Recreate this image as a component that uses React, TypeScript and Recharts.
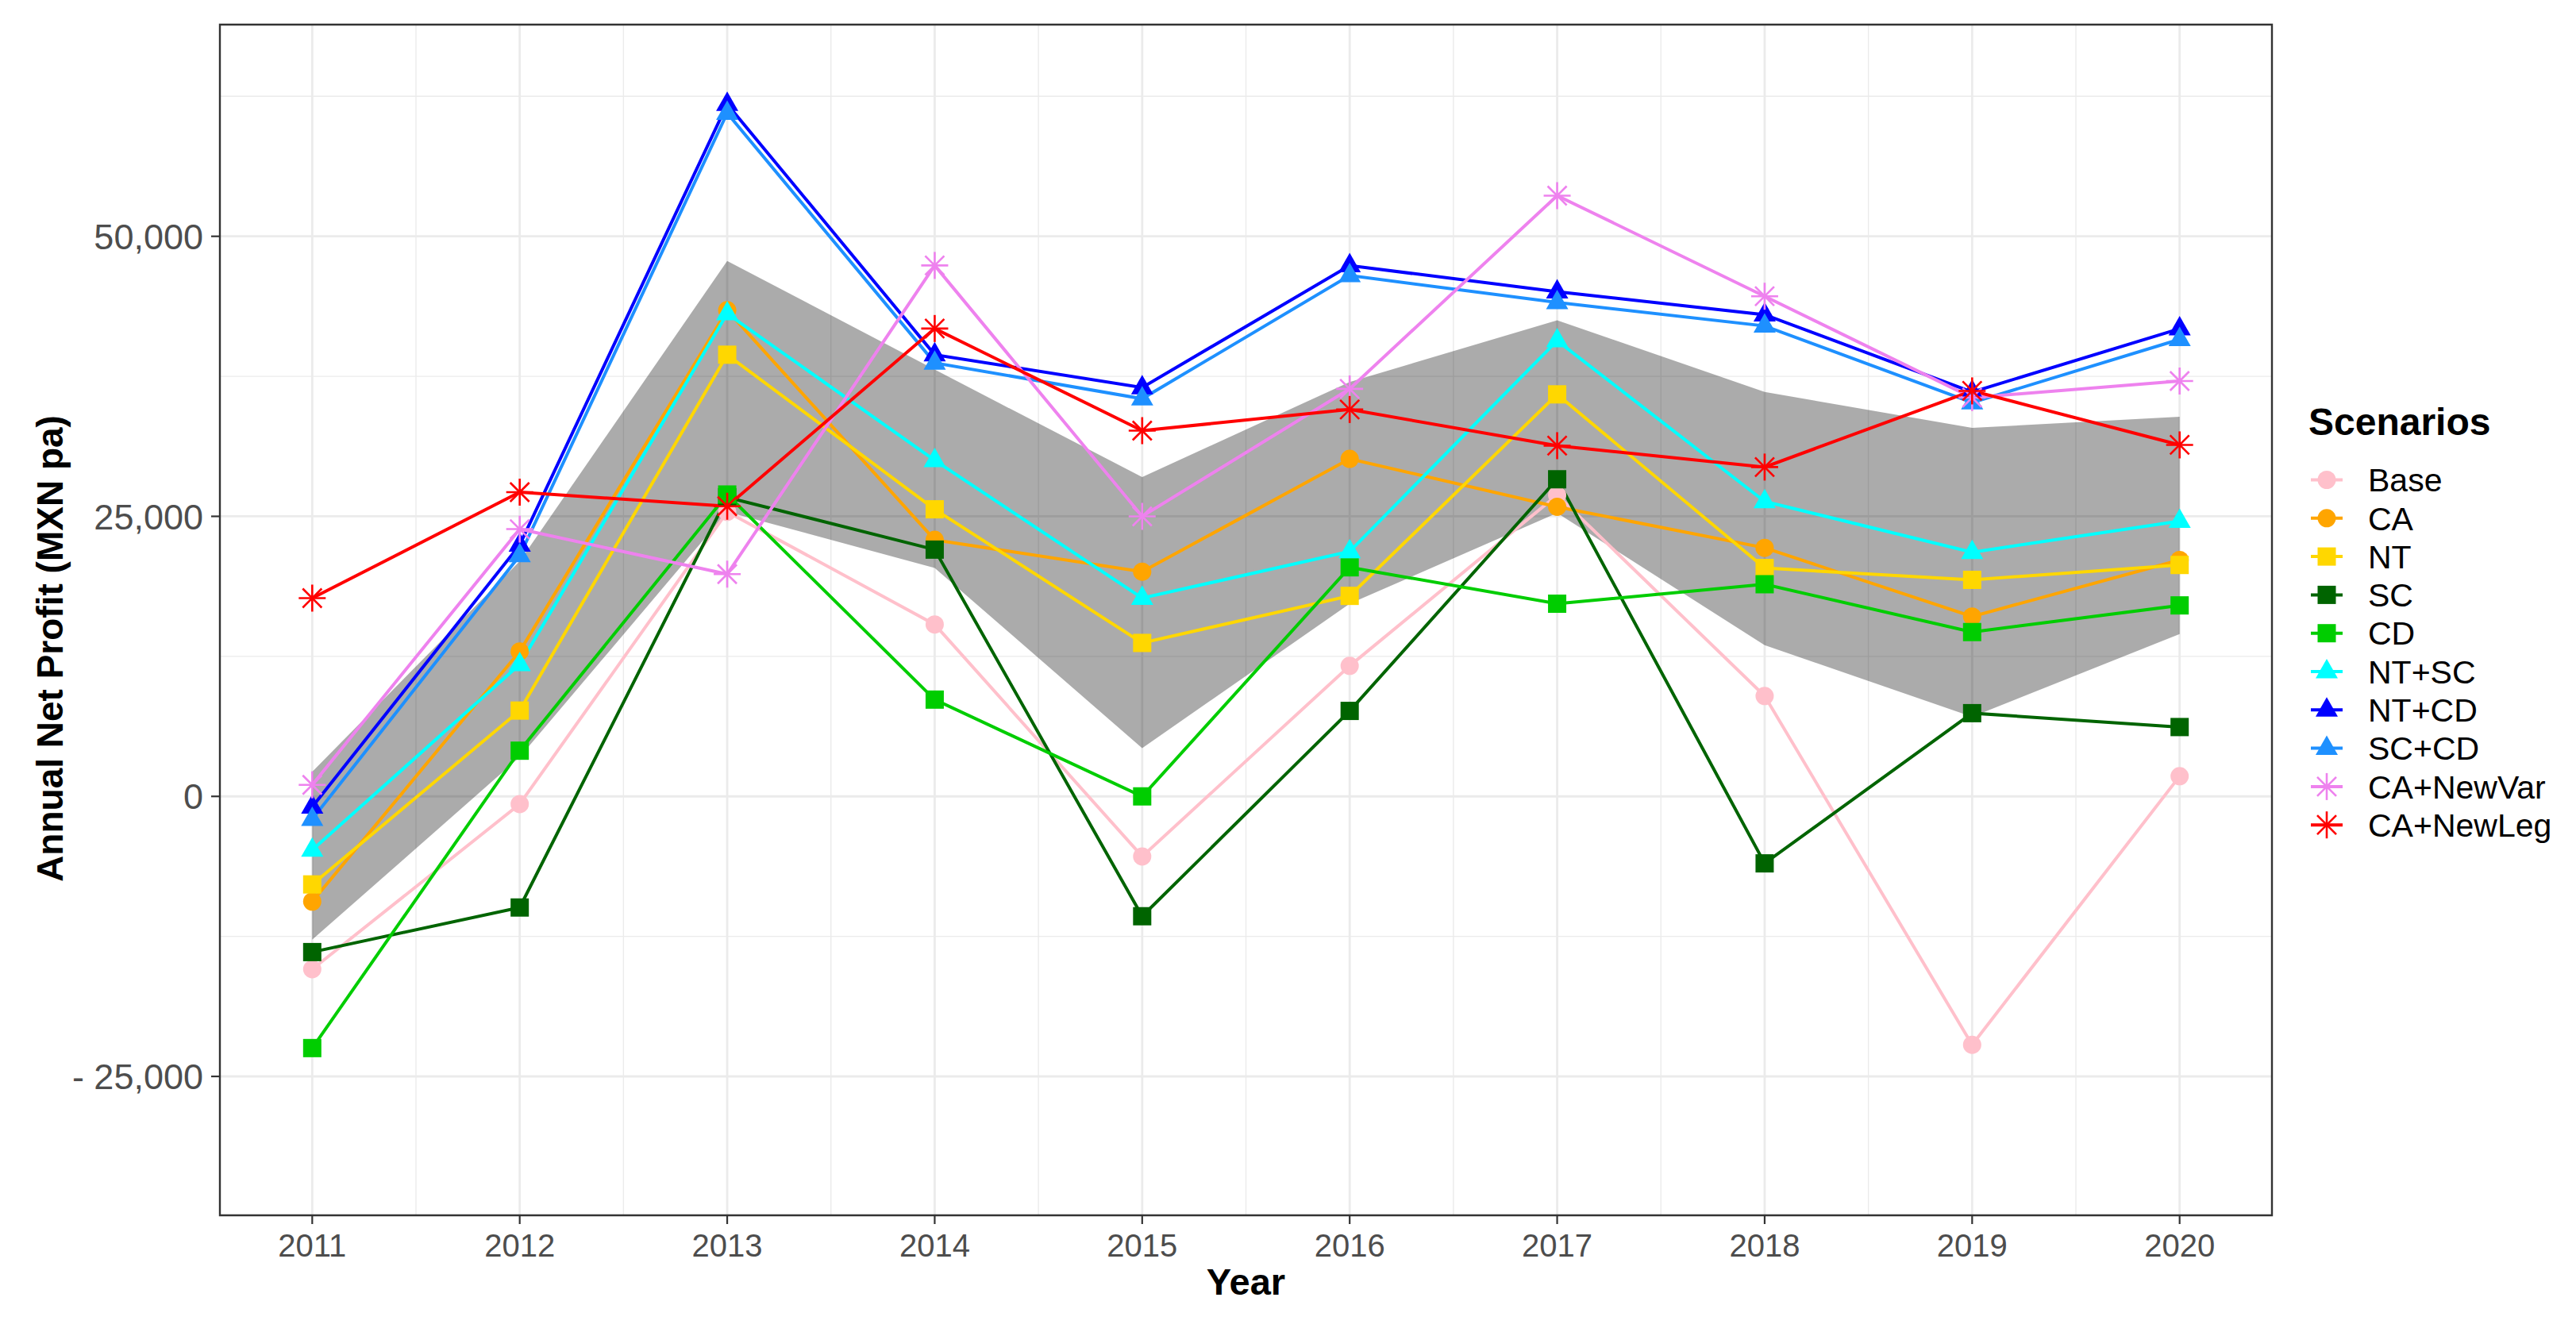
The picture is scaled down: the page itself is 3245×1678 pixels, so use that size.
import React from 'react';
import { ComposedChart, Line, Area, XAxis, YAxis, CartesianGrid, ReferenceArea, Label } from 'recharts';

// ---------- data ----------
const years = [2011, 2012, 2013, 2014, 2015, 2016, 2017, 2018, 2019, 2020];

const base = [-15430, -690, 25400, 15350, -5360, 11650, 26900, 8960, -22180, 1800];
const ca = [-9390, 12940, 43400, 22900, 20060, 30130, 25850, 22190, 16060, 21100];
const nt = [-7860, 7660, 39430, 25630, 13700, 17900, 35890, 20390, 19330, 20660];
const sc = [-13900, -9920, 26700, 22030, -10700, 7630, 28310, -5980, 7430, 6190];
const cd = [-22470, 4080, 26950, 8640, 0, 20450, 17200, 18940, 14670, 17050];
const ntSc = [-4790, 11780, 43100, 30000, 17700, 21860, 40690, 26330, 21800, 24570];
const ntCd = [-940, 22450, 61800, 39430, 36500, 47390, 45050, 43000, 36100, 41750];
const scCd = [-2030, 21500, 61000, 38700, 35500, 46500, 44100, 42000, 35150, 40800];
const caNewVar = [1030, 23860, 19840, 47400, 25000, 36380, 53630, 44650, 35600, 37080];
const caNewLeg = [17700, 27160, 25900, 41770, 32650, 34540, 31310, 29400, 36200, 31380];

const bandLower = [-12800, 3500, 25400, 20400, 4300, 17200, 25300, 13500, 7100, 14500];
const bandUpper = [2200, 21000, 47800, 38100, 28500, 37000, 42500, 36100, 32900, 33900];

const seriesNames = ['Base', 'CA', 'NT', 'SC', 'CD', 'NT+SC', 'NT+CD', 'SC+CD', 'CA+NewVar', 'CA+NewLeg'];
const seriesValues = [base, ca, nt, sc, cd, ntSc, ntCd, scCd, caNewVar, caNewLeg];
const seriesColors = ['#FFC0CB', '#FFA500', '#FFD700', '#006400', '#00CD00', '#00FFFF', '#0000FF', '#1E90FF', '#EE82EE', '#FF0000'];
const seriesShapes = ['circle', 'circle', 'square', 'square', 'square', 'triangle', 'triangle', 'triangle', 'star', 'star'];

const yMajorTicks = [-25000, 0, 25000, 50000];
const yTickLabels = ['- 25,000', '0', '25,000', '50,000'];
const yMinorTicks = [-12500, 12500, 37500, 62500];
const xMinorTicks = years.slice(0, -1).map((y) => y + 0.5);

const xDomain = [2010.555, 2020.445];
const yDomain = [-37400, 68900];

const data = years.map((year, i) => {
  const row: any = { year, band: [bandLower[i], bandUpper[i]] };
  seriesNames.forEach((n, k) => {
    row[n] = seriesValues[k][i];
  });
  return row;
});

// ---------- styles ----------
const FONT = '"Liberation Sans", Arial, Helvetica, sans-serif';
const TICK_SIZE = 11;
const TICK_MARGIN = 10;
const X_TICK_FONT = 40;
const Y_TICK_FONT = 45;
const TITLE_FONT = 47;

function Marker({ cx, cy, shape, color, scale = 1 }: any) {
  if (cx == null || cy == null || isNaN(cx) || isNaN(cy)) return <g />;
  const s = scale;
  if (shape === 'circle') return <circle cx={cx} cy={cy} r={11.5 * s} fill={color} />;
  if (shape === 'square') return <rect x={cx - 11.5 * s} y={cy - 11.5 * s} width={23 * s} height={23 * s} fill={color} />;
  if (shape === 'triangle')
    return (
      <polygon
        points={`${cx},${cy - 16 * s} ${cx + 14 * s},${cy + 8.5 * s} ${cx - 14 * s},${cy + 8.5 * s}`}
        fill={color}
      />
    );
  const a = 17 * s;
  const d = 12 * s;
  return (
    <g stroke={color} strokeWidth={2.6} fill="none">
      <line x1={cx - a} y1={cy} x2={cx + a} y2={cy} />
      <line x1={cx} y1={cy - a} x2={cx} y2={cy + a} />
      <line x1={cx - d} y1={cy - d} x2={cx + d} y2={cy + d} />
      <line x1={cx - d} y1={cy + d} x2={cx + d} y2={cy - d} />
    </g>
  );
}

const XTick = (props: any) => {
  const { x, y, payload } = props;
  const v = payload && payload.value;
  if (!years.includes(v)) return <g />;
  const top = y - TICK_MARGIN - TICK_SIZE;
  return (
    <g>
      <line x1={x} x2={x} y1={top} y2={top + TICK_SIZE} stroke="#333333" strokeWidth={2.2} />
      <text x={x} y={y} dy="0.78em" textAnchor="middle" fill="#4D4D4D" fontSize={X_TICK_FONT} fontFamily={FONT}>
        {String(v)}
      </text>
    </g>
  );
};

const YTick = (props: any) => {
  const { x, y, payload } = props;
  const v = payload && payload.value;
  const idx = yMajorTicks.indexOf(v);
  if (idx < 0) return <g />;
  const right = x + TICK_MARGIN + TICK_SIZE;
  return (
    <g>
      <line x1={right - TICK_SIZE} x2={right} y1={y} y2={y} stroke="#333333" strokeWidth={2.2} />
      <text x={x} y={y} dy="0.36em" textAnchor="end" fill="#4D4D4D" fontSize={Y_TICK_FONT} fontFamily={FONT}>
        {yTickLabels[idx]}
      </text>
    </g>
  );
};

const YTitle = (props: any) => {
  const vb = props.viewBox || { x: 0, y: 0, width: 0, height: 0 };
  const cx = vb.x + 42;
  const cy = vb.y + vb.height / 2 + 36;
  return (
    <text
      x={cx}
      y={cy}
      dy="0.36em"
      transform={`rotate(-90, ${cx}, ${cy})`}
      textAnchor="middle"
      fontSize={TITLE_FONT - 1}
      fontWeight="bold"
      fontFamily={FONT}
      fill="#000"
    >
      Annual Net Profit (MXN pa)
    </text>
  );
};

function LegendBox() {
  return (
    <svg width={360} height={620} style={{ position: 'absolute', left: 2880, top: 480 }}>
      <text x={28} y={68} fontSize={48} fontWeight="bold" fontFamily={FONT} fill="#000">
        Scenarios
      </text>
      {seriesNames.map((n, i) => {
        const cy = 124.5 + 48.3 * i;
        return (
          <g key={n}>
            <line x1={31} x2={71} y1={cy} y2={cy} stroke={seriesColors[i]} strokeWidth={4} />
            <Marker cx={51} cy={cy} shape={seriesShapes[i]} color={seriesColors[i]} />
            <text x={103} y={cy} dy="0.36em" fontSize={41} fontFamily={FONT} fill="#000">
              {n}
            </text>
          </g>
        );
      })}
    </svg>
  );
}

export default function App() {
  return (
    <div style={{ position: 'absolute', left: 0, top: 0, width: 3245, height: 1678, background: '#fff' }}>
      <ComposedChart
        width={3245}
        height={1678}
        data={data}
        margin={{ top: 31, right: 383, bottom: 47, left: 20 }}
      >
        <CartesianGrid stroke="#EBEBEB" strokeWidth={1.4} horizontalValues={yMinorTicks} verticalValues={xMinorTicks} />
        <CartesianGrid stroke="#EBEBEB" strokeWidth={2.8} horizontalValues={yMajorTicks} verticalValues={years} />
        <XAxis
          dataKey="year"
          type="number"
          domain={xDomain}
          allowDataOverflow
          ticks={[...years, ...xMinorTicks].sort((a, b) => a - b)}
          interval={0}
          height={100}
          axisLine={false}
          tickLine={false}
          tickSize={TICK_SIZE}
          tickMargin={TICK_MARGIN}
          tick={<XTick />}
        >
          <Label
            value="Year"
            position="insideBottom"
            offset={0}
            style={{ fontSize: TITLE_FONT, fontWeight: 'bold', fontFamily: FONT, fill: '#000' }}
          />
        </XAxis>
        <YAxis
          type="number"
          domain={yDomain}
          allowDataOverflow
          ticks={[...yMajorTicks, ...yMinorTicks].sort((a, b) => a - b)}
          interval={0}
          width={257}
          axisLine={false}
          tickLine={false}
          tickSize={TICK_SIZE}
          tickMargin={TICK_MARGIN}
          tick={<YTick />}
        >
          <Label content={<YTitle />} />
        </YAxis>
        <Area
          type="linear"
          dataKey="band"
          fill="#000000"
          fillOpacity={0.33}
          stroke="none"
          isAnimationActive={false}
          activeDot={false}
        />
        {seriesNames.map((n, k) => (
          <Line
            key={n}
            type="linear"
            dataKey={n}
            stroke={seriesColors[k]}
            strokeWidth={4}
            isAnimationActive={false}
            activeDot={false}
            dot={(p: any) => (
              <Marker key={`${n}-${p.index}`} cx={p.cx} cy={p.cy} shape={seriesShapes[k]} color={seriesColors[k]} />
            )}
          />
        ))}
        <ReferenceArea
          x1={xDomain[0]}
          x2={xDomain[1]}
          y1={yDomain[0]}
          y2={yDomain[1]}
          fill="none"
          stroke="#333333"
          strokeWidth={2.4}
          ifOverflow="visible"
        />
      </ComposedChart>
      <LegendBox />
    </div>
  );
}
